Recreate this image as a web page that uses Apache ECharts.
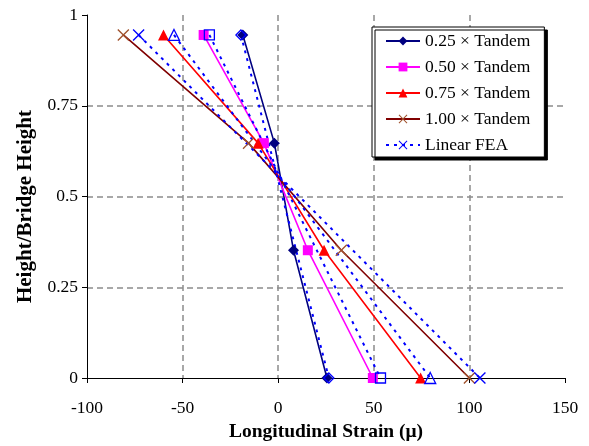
<!DOCTYPE html>
<html><head><meta charset="utf-8">
<script src="https://cdn.jsdelivr.net/npm/echarts@6/dist/echarts.min.js"></script>
<style>html,body{margin:0;padding:0;background:#fff}#c{width:589px;height:446px}</style>
</head><body><div id="c"></div>
<script>
// Experimental (measured) profiles
const heights = [0.945, 0.647, 0.352, 0];
const tandem025 = [-18.5, -2, 8, 25.5];
const tandem050 = [-39, -7.5, 15.5, 49.5];
const tandem075 = [-60, -10.5, 24, 74.5];
const tandem100 = [-81, -15.5, 33, 100];
// Linear FEA profiles
const feaHeights = [0.945, 0];
const fea025 = [-19.5, 26.5];
const fea050 = [-36, 53.5];
const fea075 = [-54.5, 79.5];
const fea100 = [-73, 105.5];

const names = ['0.25 × Tandem', '0.50 × Tandem', '0.75 × Tandem', '1.00 × Tandem', 'Linear FEA'];

const font = 'Liberation Serif';
const xPath = 'path://M0,0.8L0.8,0L5,4.2L9.2,0L10,0.8L5.8,5L10,9.2L9.2,10L5,5.8L0.8,10L0,9.2L4.2,5Z';

function pairs(xs, ys) { return xs.map((x, i) => [x, ys[i]]); }

function expSeries(name, xs, lineColor, symbol, symColor, size) {
  return {
    name: name, type: 'line', data: pairs(xs, heights),
    symbol: symbol, symbolSize: size,
    lineStyle: { color: lineColor, width: 1.6 },
    itemStyle: { color: symColor },
    emphasis: { disabled: true }, animation: false
  };
}
function feaSeries(name, xs, symbol, size, filled) {
  return {
    name: name, type: 'line', data: pairs(xs, feaHeights),
    symbol: symbol, symbolSize: size,
    lineStyle: { color: '#0000FF', width: 2, type: [3, 5] },
    itemStyle: filled ? { color: '#0000FF' } : { color: 'rgba(0,0,0,0)', borderColor: '#0000FF', borderWidth: 1.3 },
    emphasis: { disabled: true }, animation: false
  };
}

const chart = echarts.init(document.getElementById('c'));
chart.setOption({
  backgroundColor: '#fff',
  animation: false,
  grid: { left: 87, right: 24, top: 15, bottom: 68, containLabel: false, outerBoundsMode: 'none' },
  legend: {
    data: names,
    orient: 'vertical', align: 'left',
    left: 372, top: 27,
    padding: [5, 14, 3, 13],
    itemWidth: 34, itemHeight: 11, itemGap: 8,
    backgroundColor: '#fff', borderColor: '#000', borderWidth: 1,
    shadowColor: '#000', shadowOffsetX: 3, shadowOffsetY: 3, shadowBlur: 0,
    textStyle: { fontFamily: font, fontSize: 17.5, color: '#000', lineHeight: 17 }
  },
  xAxis: {
    type: 'value', min: -100, max: 150, interval: 50,
    name: 'Longitudinal Strain (μ)', nameLocation: 'middle', nameGap: 44,
    nameTextStyle: { fontFamily: font, fontSize: 19.5, fontWeight: 'bold', color: '#000' },
    axisLine: { show: true, onZero: false, lineStyle: { color: '#000', width: 1 } },
    axisTick: { show: true, inside: false, length: 5, lineStyle: { color: '#000' } },
    axisLabel: { fontFamily: font, fontSize: 17.5, color: '#000', margin: 21 },
    splitLine: { show: true, showMinLine: false, showMaxLine: false, lineStyle: { color: '#8c8c8c', width: 1.5, type: [6, 4] } }
  },
  yAxis: {
    type: 'value', min: 0, max: 1, interval: 0.25,
    name: 'Height/Bridge Height', nameLocation: 'middle', nameGap: 42, nameRotate: 90,
    nameTextStyle: { fontFamily: font, fontSize: 21, fontWeight: 'bold', color: '#000', padding: [0, 20, 0, 0] },
    axisLine: { show: true, onZero: false, lineStyle: { color: '#000', width: 1 } },
    axisTick: { show: true, inside: false, length: 5, lineStyle: { color: '#000' } },
    axisLabel: { fontFamily: font, fontSize: 17.5, color: '#000', margin: 9 },
    splitLine: { show: true, showMinLine: false, showMaxLine: false, lineStyle: { color: '#8c8c8c', width: 1.5, type: [6, 4] } }
  },
  series: [
    expSeries(names[0], tandem025, '#000080', 'diamond', '#000080', 11),
    expSeries(names[1], tandem050, '#FF00FF', 'rect', '#FF00FF', 10),
    expSeries(names[2], tandem075, '#FF0000', 'triangle', '#FF0000', 11),
    expSeries(names[3], tandem100, '#800000', xPath, '#A0522D', 12),
    feaSeries('FEA 0.25', fea025, 'diamond', 10, false),
    feaSeries('FEA 0.50', fea050, 'rect', 10, false),
    feaSeries('FEA 0.75', fea075, 'triangle', 11, false),
    feaSeries(names[4], fea100, xPath, 12, true)
  ]
});
</script>
</body></html>
